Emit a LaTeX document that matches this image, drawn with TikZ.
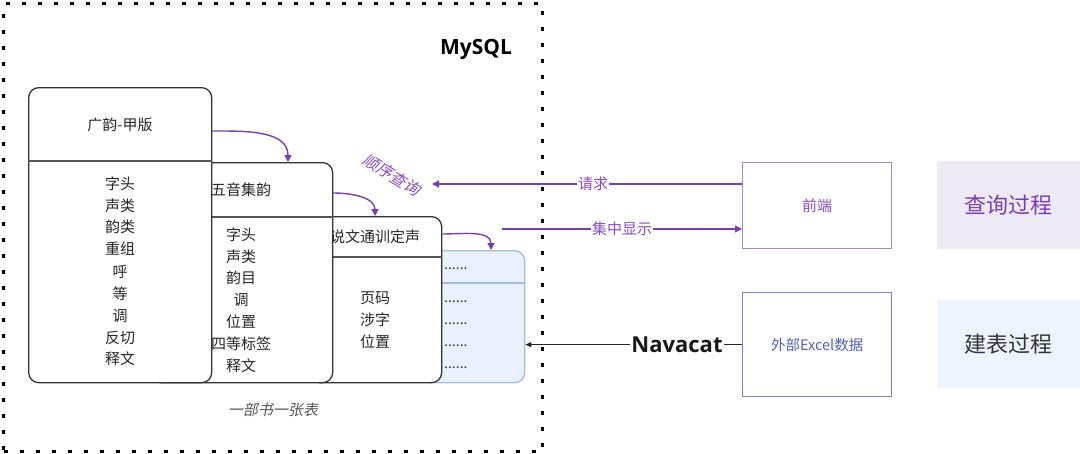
\documentclass[tikz,border=0pt]{standalone}
\usepackage{fontspec}
\setmainfont{Noto Sans CJK SC}
\newfontfamily\latbold{Open Sans}
\newfontfamily\cjkslant[FakeSlant=0.2]{Noto Sans CJK SC}
\usetikzlibrary{arrows.meta}
\definecolor{tblborder}{HTML}{333333}
\definecolor{divcol}{HTML}{555555}
\definecolor{purp}{HTML}{7A3DB0}
\definecolor{purptext}{HTML}{8A4BC0}
\definecolor{frontborder}{HTML}{A585CC}
\definecolor{excelborder}{HTML}{7483C6}
\definecolor{exceltext}{HTML}{4F5FB5}
\definecolor{bluefill}{HTML}{EAF1FC}
\definecolor{blueborder}{HTML}{A3BBDD}
\definecolor{queryfill}{HTML}{EDEAF5}
\definecolor{buildfill}{HTML}{EEF3FD}
\definecolor{greytext}{HTML}{555555}
\tikzset{
  tbl/.style={draw=tblborder, line width=1.3pt, fill=white, rounded corners=10pt, inner sep=0pt, anchor=north west},
  divider/.style={draw=divcol, line width=1.8pt},
  cell/.style={font=\fontsize{15pt}{15pt}\selectfont, text=black!85, inner sep=0pt},
  dotcell/.style={font=\fontsize{14pt}{14pt}\selectfont, text=black!80, inner sep=0pt, anchor=west},
  flowarrow/.style={draw=purp, line width=1.4pt, -{Triangle[length=7pt,width=7pt]}},
  reqline/.style={draw=purp, line width=1.3pt, -{Triangle[length=7pt,width=7pt]}},
  linelabel/.style={fill=white, inner sep=1pt, text=purptext, font=\fontsize{15pt}{15pt}\selectfont},
  sidebox/.style={anchor=north west, inner sep=0pt, minimum width=143pt, minimum height=88pt, font=\fontsize{22pt}{22pt}\selectfont},
}
\begin{document}
\begin{tikzpicture}[x=1pt,y=-1pt]
\useasboundingbox (0,0) rectangle (1080,453);
% MySQL frame
\node[name=db, draw=black, line width=3pt, dash pattern=on 4pt off 12pt, anchor=north west, inner sep=0pt, minimum width=539pt, minimum height=448pt] at (2,2) {};
\node[name=mysql, font=\latbold\bfseries\fontsize{21pt}{21pt}\selectfont, inner sep=0pt] at (476,49) {MySQL};

% table 4 (blue)
\node[tbl, name=t4, draw=blueborder, fill=bluefill, minimum width=104pt, minimum height=132pt] at (420,250) {};
\draw[draw=blueborder, line width=1.3pt] (t4.west |- 0,283) -- (t4.east |- 0,283);
\node[dotcell, name=d1] at (444,269) {......};
\node[dotcell, name=d2] at (444,302) {......};
\node[dotcell, name=d3] at (444,324) {......};
\node[dotcell, name=d4] at (444,346) {......};
\node[dotcell, name=d5] at (444,368) {......};

% table 3
\node[tbl, name=t3, minimum width=132pt, minimum height=166pt] at (309,216) {};
\draw[divider] (t3.west |- 0,257) -- (t3.east |- 0,257);
\node[cell, name=h3] at (375,237) {说文通训定声};
\node[cell, name=c31] at (375,298) {页码};
\node[cell, name=c32] at (375,320) {涉字};
\node[cell, name=c33] at (375,342) {位置};

% table 2
\node[tbl, name=t2, minimum width=182pt, minimum height=220pt] at (150,162) {};
\draw[divider] (t2.west |- 0,217) -- (t2.east |- 0,217);
\node[cell, name=h2] at (241,190) {五音集韵};
\node[cell, name=c21] at (241,235) {字头};
\node[cell, name=c22] at (241,257) {声类};
\node[cell, name=c23] at (241,278) {韵目};
\node[cell, name=c24] at (241,300) {调};
\node[cell, name=c25] at (241,322) {位置};
\node[cell, name=c26] at (241,344) {四等标签};
\node[cell, name=c27] at (241,366) {释文};

% table 1
\node[tbl, name=t1, minimum width=183pt, minimum height=295pt] at (28,87) {};
\draw[divider] (t1.west |- 0,161) -- (t1.east |- 0,161);
\node[cell, name=h1] at (120,125) {广韵-甲版};
\node[cell, name=c11] at (120,184) {字头};
\node[cell, name=c12] at (120,206) {声类};
\node[cell, name=c13] at (120,227) {韵类};
\node[cell, name=c14] at (120,249) {重组};
\node[cell, name=c15] at (120,272) {呼};
\node[cell, name=c16] at (120,294) {等};
\node[cell, name=c17] at (120,316) {调};
\node[cell, name=c18] at (120,338) {反切};
\node[cell, name=c19] at (120,359) {释文};

% caption
\node[name=cap, font=\cjkslant\fontsize{15pt}{15pt}\selectfont, text=greytext, inner sep=0pt] at (273,410) {一部书一张表};

% sequential arrows
\draw[flowarrow] ([yshift=-44pt]t1.north east) to[out=0,in=90] ([xshift=138pt]t2.north west);
\draw[flowarrow] ([yshift=-31pt]t2.north east) to[out=0,in=90] ([xshift=66pt]t3.north west);
\draw[flowarrow] ([yshift=-18pt]t3.north east) to[out=0,in=90] ([xshift=71pt]t4.north west);

\node[name=seq, rotate=-31, font=\cjkslant\fontsize{16pt}{16pt}\selectfont, text=purptext, inner sep=0pt] at (392,175) {顺序查询};

% front end
\node[name=qd, draw=frontborder, line width=1.3pt, anchor=north west, inner sep=0pt, minimum width=149pt, minimum height=86pt, text=purptext, font=\fontsize{15pt}{15pt}\selectfont] at (742,162) {前端};
\coordinate (reqend) at (432,184);
\coordinate (dispstart) at (502,229);
\draw[reqline] ([yshift=-22pt]qd.north west) -- node[linelabel, pos=0.48] {请求} (reqend);
\draw[reqline] (dispstart) -- node[linelabel, pos=0.50] {集中显示} ([yshift=-67pt]qd.north west);

% excel
\node[name=excel, draw=excelborder, line width=1.3pt, anchor=north west, inner sep=0pt, minimum width=149pt, minimum height=104pt, text=exceltext, font=\fontsize{14.5pt}{14.5pt}\selectfont] at (742,292) {外部Excel数据};
\draw[draw=black!85, line width=1pt, -{Triangle[length=6pt,width=5pt]}] (excel.west) -- node[pos=0.30, fill=white, inner sep=1pt, font=\latbold\bfseries\fontsize{22pt}{22pt}\selectfont, text=black!90] {Navacat} (t4.east |- excel.west);

% side labels
\node[sidebox, name=query, fill=queryfill, text=purp] at (937,161) {查询过程};
\node[sidebox, name=build, fill=buildfill, text=black!80] at (937,300) {建表过程};
\end{tikzpicture}
\end{document}
